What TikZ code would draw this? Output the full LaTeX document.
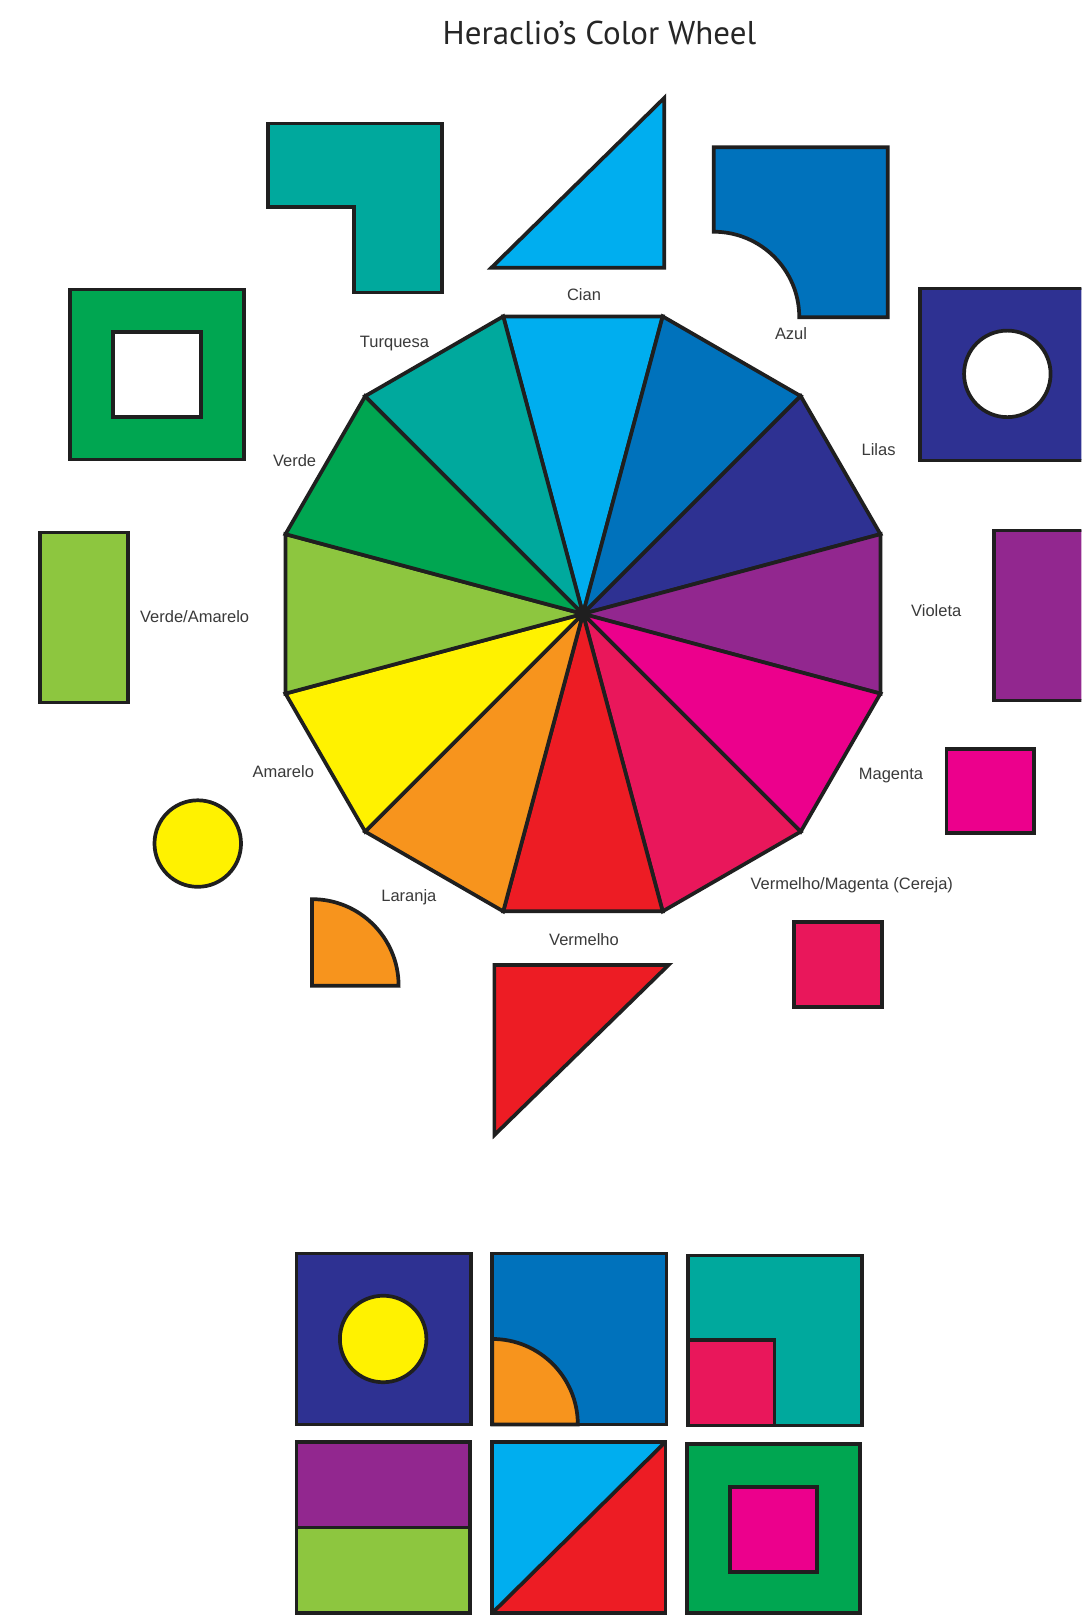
\documentclass[tikz,border=0pt]{standalone}
\usepackage{fontspec}
\setmainfont{Liberation Sans}
\newfontfamily\titlefont{PT Sans}
\usepackage{xcolor}

\definecolor{corCian}{HTML}{00AEEF}
\definecolor{corAzul}{HTML}{0072BC}
\definecolor{corLilas}{HTML}{2E3192}
\definecolor{corVioleta}{HTML}{92278F}
\definecolor{corMagenta}{HTML}{EC008C}
\definecolor{corCereja}{HTML}{E9175B}
\definecolor{corVermelho}{HTML}{ED1C24}
\definecolor{corLaranja}{HTML}{F7941D}
\definecolor{corAmarelo}{HTML}{FFF200}
\definecolor{corVerdeAmarelo}{HTML}{8DC63F}
\definecolor{corVerde}{HTML}{00A651}
\definecolor{corTurquesa}{HTML}{00A99D}
\definecolor{cinzaTexto}{HTML}{3A3A3A}

\tikzset{
  peca/.style={draw=black!88, line width=1.8pt, line join=miter},
  rotulo/.style={font=\fontsize{8}{9}\selectfont, text=cinzaTexto, inner sep=0pt},
}

\begin{document}
\begin{tikzpicture}[x=0.5pt,y=-0.5pt]

		% page
		\fill[white] (0,0) rectangle (1050,1568);
		\clip (0,0) rectangle (1050,1568);
		\useasboundingbox (0,0) rectangle (1050,1568);

		\node[font=\titlefont\fontsize{16}{18}\selectfont, text=black!85] (titulo) at (582,32) {Heraclio’s Color Wheel};

		% Wheel of twelve wedges
		\begin{scope}[shift={(566,596)}]
			\foreach \cor [count=\i from 0] in {corCian,corAzul,corLilas,corVioleta,corMagenta,corCereja,corVermelho,corLaranja,corAmarelo,corVerdeAmarelo,corVerde,corTurquesa}
				\filldraw[peca, fill=\cor] (0,0) -- ({255+30*\i}:299) -- ({285+30*\i}:299) -- cycle;
		\end{scope}

		% Names
		\node[rotulo] (lbCian) at (567,286) {Cian};
		\node[rotulo] (lbTurquesa) at (383,334) {Turquesa};
		\node[rotulo] (lbAzul) at (768,324) {Azul};
		\node[rotulo] (lbVerde) at (286,447) {Verde};
		\node[rotulo] (lbLilas) at (853,437) {Lilas};
		\node[rotulo] (lbVerdeAmarelo) at (189,599) {Verde/Amarelo};
		\node[rotulo] (lbVioleta) at (909,593) {Violeta};
		\node[rotulo] (lbAmarelo) at (275,749) {Amarelo};
		\node[rotulo] (lbMagenta) at (865,753) {Magenta};
		\node[rotulo] (lbLaranja) at (397,871) {Laranja};
		\node[rotulo] (lbCereja) at (827,859) {Vermelho/Magenta (Cereja)};
		\node[rotulo] (lbVermelho) at (567,912) {Vermelho};

		% Shapes around the wheel
		\filldraw[peca, fill=corTurquesa] (260,120) -- (429,120) -- (429,284) -- (344,284) -- (344,201) -- (260,201) -- cycle;
		\filldraw[peca, fill=corCian] (477,260) -- (645,260) -- (645,95) -- cycle;
		\filldraw[peca, fill=corAzul] (693,143) -- (862,143) -- (862,308) -- (776,308) arc[start angle=0, end angle=-90, radius=83] -- cycle;
		\filldraw[peca, fill=corLilas] (893,280) rectangle (1062,447);
		\filldraw[peca, fill=white] (978,363) circle[radius=42];
		\filldraw[peca, fill=corVerde] (68,281) rectangle (237,446);
		\filldraw[peca, fill=white] (110,322) rectangle (195,405);
		\filldraw[peca, fill=corVerdeAmarelo] (39,517) rectangle (124,682);
		\filldraw[peca, fill=corVioleta] (965,515) rectangle (1052,680);
		\filldraw[peca, fill=corAmarelo] (192,819) circle[radius=42];
		\filldraw[peca, fill=corLaranja] (303,957) -- (303,873) arc[start angle=-90, end angle=0, radius=84] -- cycle;
		\filldraw[peca, fill=corVermelho] (480,937) -- (649,937) -- (480,1102) -- cycle;
		\filldraw[peca, fill=corMagenta] (919,727) rectangle (1004,809);
		\filldraw[peca, fill=corCereja] (771,895) rectangle (856,978);

		% Combinations
		\filldraw[peca, fill=corLilas] (288,1217) rectangle (457,1383);
		\filldraw[peca, fill=corAmarelo] (372,1300) circle[radius=42];

		\filldraw[peca, fill=corAzul] (478,1217) rectangle (647,1383);
		\filldraw[peca, fill=corLaranja] (478,1383) -- (478,1300) arc[start angle=-90, end angle=0, radius=83] -- cycle;

		\filldraw[peca, fill=corTurquesa] (668,1219) rectangle (837,1384);
		\filldraw[peca, fill=corCereja] (668,1301) rectangle (752,1384);

		\filldraw[peca, fill=corVioleta] (288,1400) rectangle (456,1483);
		\filldraw[peca, fill=corVerdeAmarelo] (288,1483) rectangle (456,1566);

		\filldraw[peca, fill=corCian] (478,1400) rectangle (646,1566);
		\fill[corVermelho] (478,1566) -- (646,1400) -- (646,1566) -- cycle;
		\draw[peca] (478,1566) -- (646,1400);
		\draw[peca] (478,1400) rectangle (646,1566);

		\filldraw[peca, fill=corVerde] (667,1402) rectangle (835,1566);
		\filldraw[peca, fill=corMagenta] (709,1444) rectangle (793,1526);

	\end{tikzpicture}
\end{document}
